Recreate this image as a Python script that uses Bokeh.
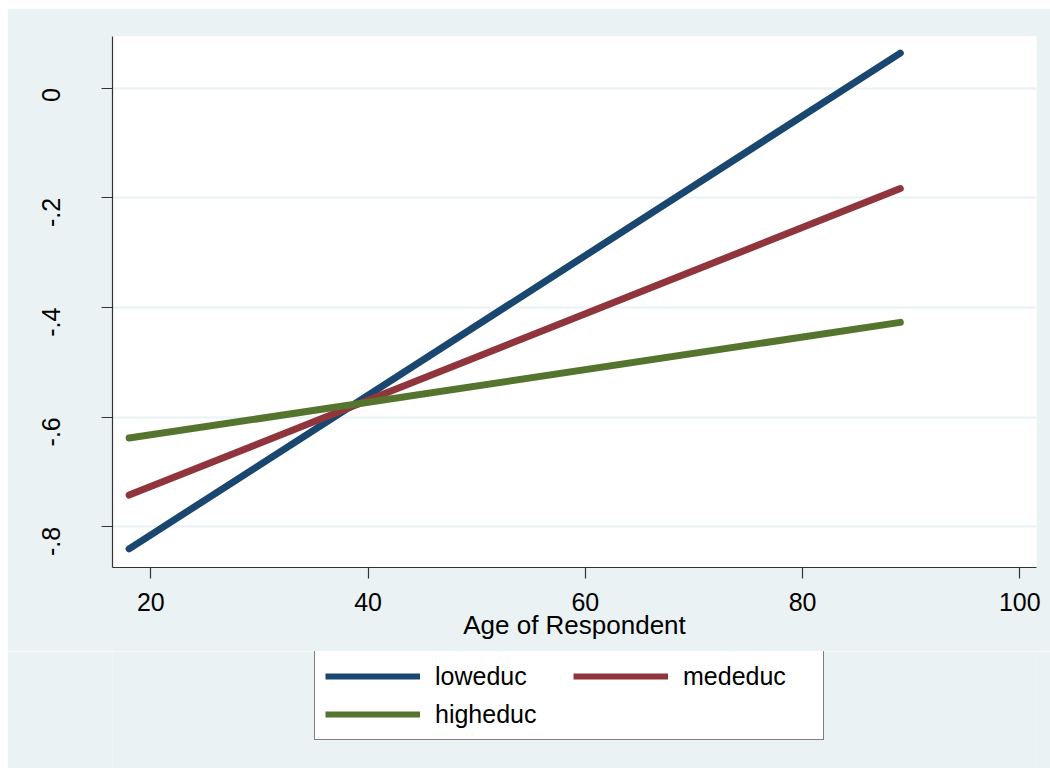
import math
from bokeh.plotting import figure
from bokeh.layouts import column, row
from bokeh.models import FixedTicker, Legend, LegendItem, Range1d, Spacer
from bokeh.embed import file_html
from bokeh.resources import INLINE

# ---- data ----
ages = [18, 89]
loweduc = [-0.840, 0.064]
mededuc = [-0.742, -0.183]
higheduc = [-0.638, -0.427]

series_names = ["loweduc", "mededuc", "higheduc"]
series_colors = ["#1a476f", "#90353b", "#55752f"]

x_ticks = [20, 40, 60, 80, 100]
y_ticks = [0, -0.2, -0.4, -0.6, -0.8]
y_tick_labels = ["0", "-.2", "-.4", "-.6", "-.8"]

BG = "#eaf2f3"
FONT = "Liberation Sans"

p = figure(width=1043, height=643, output_backend="svg", toolbar_location=None,
           x_range=Range1d(16.47, 101.54), y_range=Range1d(-0.874, 0.0943),
           min_border_left=105, min_border_right=14, min_border_top=28,
           min_border_bottom=84)
p.border_fill_color = BG
p.background_fill_color = "white"
p.outline_line_color = None

for ys, c in zip([loweduc, mededuc, higheduc], series_colors):
    p.line(ages, ys, line_color=c, line_width=7, line_cap="round")

# axes
for ax in (p.xaxis[0], p.yaxis[0]):
    ax.axis_line_color = "#333333"
    ax.axis_line_width = 1.2
    ax.major_tick_line_color = "#333333"
    ax.major_tick_line_width = 1.2
    ax.major_tick_out = 11
    ax.major_tick_in = 0
    ax.minor_tick_line_color = None
    ax.major_label_text_font = FONT
    ax.major_label_text_font_size = "25px"
    ax.major_label_text_color = "black"

p.xaxis.ticker = FixedTicker(ticks=x_ticks)
p.xaxis.major_label_standoff = 14
p.xaxis.axis_label = "Age of Respondent"
p.xaxis.axis_label_text_font = FONT
p.xaxis.axis_label_text_font_size = "26px"
p.xaxis.axis_label_text_font_style = "normal"
p.xaxis.axis_label_text_color = "black"
p.xaxis.axis_label_standoff = -4

p.yaxis.ticker = FixedTicker(ticks=y_ticks)
p.yaxis.major_label_overrides = {t: l for t, l in zip(y_ticks, y_tick_labels)}
p.yaxis.major_label_orientation = math.pi / 2
p.yaxis.major_label_standoff = 50

p.xgrid.grid_line_color = None
p.ygrid.grid_line_color = BG
p.ygrid.grid_line_width = 2

# ---- legend strip (separate figure below the plot, same frame alignment) ----
lg = figure(width=1043, height=117, output_backend="svg", toolbar_location=None,
            x_range=Range1d(0, 1), y_range=Range1d(0, 1),
            x_axis_type=None, y_axis_type=None,
            min_border_left=105, min_border_right=14, min_border_top=0,
            min_border_bottom=0)
lg.border_fill_color = BG
lg.background_fill_color = BG
lg.outline_line_color = None
lg.xgrid.grid_line_color = None
lg.ygrid.grid_line_color = None

items = []
for name, ys, c in zip(series_names, [loweduc, mededuc, higheduc], series_colors):
    # same series data; it lies outside this strip's ranges, so only the legend key shows
    r = lg.line(ages, ys, line_color=c, line_width=6)
    items.append(LegendItem(label=name, renderers=[r]))

legend = Legend(items=items, orientation="horizontal", ncols=2,
                location=(202, 28))
legend.label_text_font = FONT
legend.label_text_font_size = "25px"
legend.label_text_color = "black"
legend.border_line_color = "black"
legend.border_line_width = 1
legend.background_fill_color = "white"
legend.background_fill_alpha = 1
legend.padding = 10
legend.spacing = 8
legend.glyph_width = 95
legend.glyph_height = 30
legend.label_height = 30
legend.label_width = 130
legend.label_standoff = 15
legend.margin = 0
lg.add_layout(legend, "center")

layout = column(Spacer(height=8), row(Spacer(width=7), column(p, lg)))
open("out.html", "w").write(file_html(layout, INLINE))
